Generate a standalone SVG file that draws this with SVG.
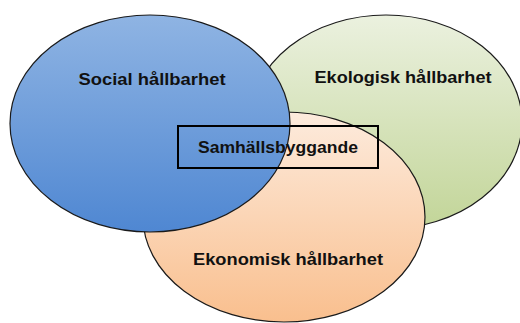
<svg xmlns="http://www.w3.org/2000/svg" width="520" height="323" viewBox="0 0 520 323">
<defs>
<linearGradient id="gBlue" x1="0" y1="0" x2="0" y2="1"><stop offset="0" stop-color="#8FB4E3"/><stop offset="1" stop-color="#4F87D2"/></linearGradient>
<linearGradient id="gGreen" x1="0" y1="0" x2="0" y2="1"><stop offset="0" stop-color="#EBF1DF"/><stop offset="1" stop-color="#C2D598"/></linearGradient>
<linearGradient id="gOrange" x1="0" y1="0" x2="0" y2="1"><stop offset="0" stop-color="#FDEBDD"/><stop offset="1" stop-color="#F9BF8E"/></linearGradient>
</defs>
<style>
.e{stroke:#1a1a1a;stroke-width:1.2}
.t{font-family:"Liberation Sans",Arial,sans-serif;font-weight:bold;font-size:17px;fill:#111;text-anchor:middle}
</style>
<rect width="520" height="323" fill="#fff"/>
<g id="ekologisk">
<ellipse class="e" cx="386" cy="122" rx="136" ry="107" fill="url(#gGreen)"/>
<text class="t" x="403" y="83" textLength="177" lengthAdjust="spacingAndGlyphs">Ekologisk hållbarhet</text>
</g>
<g id="ekonomisk">
<ellipse class="e" cx="284" cy="217" rx="141" ry="105" fill="url(#gOrange)"/>
<text class="t" x="288" y="265" textLength="190" lengthAdjust="spacingAndGlyphs">Ekonomisk hållbarhet</text>
</g>
<g id="social">
<ellipse class="e" cx="150" cy="123.5" rx="140" ry="108.5" fill="url(#gBlue)"/>
<text class="t" x="152" y="85" textLength="147" lengthAdjust="spacingAndGlyphs">Social hållbarhet</text>
</g>
<g id="samhallsbyggande">
<rect x="178" y="126" width="200" height="42" fill="none" stroke="#000" stroke-width="2"/>
<text class="t" x="278" y="153" textLength="160" lengthAdjust="spacingAndGlyphs">Samhällsbyggande</text>
</g>
</svg>
